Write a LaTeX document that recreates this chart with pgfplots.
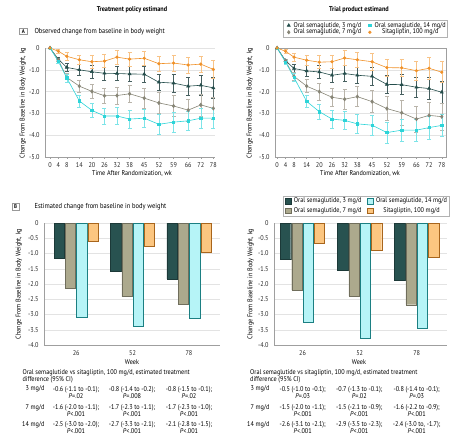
\documentclass[border=0pt]{standalone}
\usepackage{pgfplots}
\pgfplotsset{compat=1.18}
\usepackage{pgfplotstable}
\usepackage{fontspec}
\setmainfont{PT Sans}[FakeStretch=0.9]

\definecolor{cA}{RGB}{36,77,75}
\definecolor{cAe}{RGB}{70,95,95}
\definecolor{cB}{RGB}{135,133,118}
\definecolor{cBe}{RGB}{185,180,170}
\definecolor{cC}{RGB}{45,212,216}
\definecolor{cCe}{RGB}{125,228,232}
\definecolor{cD}{RGB}{240,145,40}
\definecolor{cDe}{RGB}{248,195,135}
\definecolor{bA}{RGB}{40,82,80}
\definecolor{bB}{RGB}{172,169,141}
\definecolor{bC}{RGB}{182,244,247}
\definecolor{bD}{RGB}{252,198,128}

\newcommand{\fs}{\fontsize{6.9}{6.8}\selectfont}

\pgfplotstableread{
wk s3 e3 s7 e7 s14 e14 st est
0 0 0 0 0 0 0 0 0
4 -0.52 0.08 -0.55 0.08 -0.62 0.10 -0.15 0.08
8 -0.89 0.18 -1.35 0.20 -1.37 0.18 -0.38 0.18
14 -1.00 0.25 -1.75 0.28 -2.43 0.28 -0.54 0.22
20 -1.09 0.28 -1.99 0.32 -2.86 0.32 -0.63 0.28
26 -1.16 0.30 -2.19 0.36 -3.12 0.36 -0.60 0.30
32 -1.17 0.32 -2.18 0.38 -3.12 0.38 -0.42 0.33
38 -1.19 0.35 -2.10 0.40 -3.26 0.40 -0.51 0.33
45 -1.20 0.36 -2.30 0.45 -3.22 0.42 -0.47 0.33
52 -1.57 0.37 -2.52 0.47 -3.50 0.45 -0.72 0.35
59 -1.61 0.40 -2.66 0.48 -3.40 0.45 -0.69 0.36
66 -1.75 0.42 -2.85 0.50 -3.34 0.43 -0.78 0.37
72 -1.71 0.45 -2.61 0.50 -3.22 0.45 -0.74 0.38
78 -1.83 0.48 -2.77 0.50 -3.22 0.45 -0.98 0.40
}\tpA

\pgfplotstableread{
wk s3 e3 s7 e7 s14 e14 st est
0 0 0 0 0 0 0 0 0
4 -0.58 0.08 -0.60 0.10 -0.65 0.10 -0.15 0.08
8 -0.94 0.20 -1.30 0.20 -1.35 0.18 -0.42 0.20
14 -1.05 0.26 -1.75 0.30 -2.45 0.26 -0.56 0.24
20 -1.10 0.30 -2.00 0.38 -2.92 0.33 -0.65 0.30
26 -1.25 0.34 -2.26 0.42 -3.26 0.40 -0.63 0.32
32 -1.17 0.36 -2.35 0.44 -3.32 0.42 -0.46 0.35
38 -1.25 0.38 -2.23 0.46 -3.48 0.44 -0.54 0.36
45 -1.30 0.42 -2.46 0.50 -3.54 0.46 -0.63 0.38
52 -1.67 0.42 -2.78 0.55 -3.88 0.48 -0.90 0.40
59 -1.68 0.46 -2.97 0.58 -3.77 0.50 -0.91 0.40
66 -1.80 0.46 -3.26 0.60 -3.77 0.50 -1.04 0.42
72 -1.86 0.50 -3.09 0.60 -3.65 0.52 -0.93 0.50
78 -2.03 0.52 -3.15 0.60 -3.55 0.52 -1.11 0.48
}\tpB

\pgfplotsset{
  common/.style={
    scale only axis,
    ymajorgrids,
    grid style={gray!22, line width=0.4pt},
    axis line style={gray!75, line width=0.5pt},
    tick style={gray!75, line width=0.4pt},
    major tick length=2pt,
    tick align=outside,
    xtick pos=bottom, ytick pos=left,
    ytick style={draw=none},
    tick label style={font=\fs, text=black!85},
  },
  topax/.style={common,
    height=109pt, ymin=-5, ymax=0,
    ytick={0,-1,-2,-3,-4,-5},
    yticklabels={0,-1.0,-2.0,-3.0,-4.0,-5.0},
    xtick={0,4,8,14,20,26,32,38,45,52,59,66,72,78},
    xticklabels={0,4,8,14,20,26,32,38,45,52,59,66,72,78},
    every axis plot/.append style={
      legend image code/.code={\path (-0.06cm,0cm) (0.2cm,0cm); \draw[##1] plot coordinates {(0.07cm,0cm)};}},
  },
  botax/.style={common,
    height=122pt, ymin=-4, ymax=0,
    ytick={0,-0.5,-1,-1.5,-2,-2.5,-3,-3.5,-4},
    yticklabels={0,-0.5,-1.0,-1.5,-2.0,-2.5,-3.0,-3.5,-4.0},
    xtick={0,1,2}, xticklabels={26,52,78},
    xtick style={draw=none},
    axis lines*=left,
    ybar=1pt, bar width=10.3pt,
    every axis plot/.append style={
      legend image code/.code={\path (-1pt,0pt) (7.5pt,0pt); \draw[##1] (0pt,-2.9pt) rectangle (6pt,2.9pt);}},
  },
  ln/.style 2 args={color=#1, line width=0.6pt,
    mark options={solid, fill=#1, draw=#1},
    error bars/y dir=both, error bars/y explicit,
    error bars/error bar style={color=#2, line width=0.5pt},
    error bars/error mark options={rotate=90, mark size=2pt, color=#2, line width=0.5pt}},
}

\begin{document}
\begin{tikzpicture}[font=\fs]
\path[use as bounding box] (0pt,0pt) rectangle (467pt,-441pt);

% ---------- Titles ----------
\node[font=\bfseries\fs] at (132pt,-10pt) {Treatment policy estimand};
\node[font=\bfseries\fs] at (359pt,-10pt) {Trial product estimand};

\node[draw=gray!80, font=\bfseries\fontsize{5.5}{5.5}\selectfont, inner sep=0pt, minimum width=8pt, minimum height=6.5pt] at (23.3pt,-31.3pt) {A};
\node[anchor=west, font=\fontsize{7.2}{7.5}\selectfont] at (31pt,-31.3pt) {Observed change from baseline in body weight};

% ---------- Top left ----------
\begin{axis}[topax, at={(45pt,-157pt)}, anchor=south west, width=170pt,
  xmin=-2.4, xmax=78.8, axis lines*=left]
\addplot[ln={cA}{cAe}, mark=triangle*, mark size=1.7pt] table[x=wk, y=s3, y error=e3] {\tpA};
\addplot[ln={cB}{cBe}, mark=diamond*, mark size=1.7pt] table[x=wk, y=s7, y error=e7] {\tpA};
\addplot[ln={cC}{cCe}, mark=square*, mark size=1.2pt] table[x=wk, y=s14, y error=e14] {\tpA};
\addplot[ln={cD}{cDe}, mark=*, mark size=1.3pt] table[x=wk, y=st, y error=est] {\tpA};
\end{axis}
\node[rotate=90] at (23pt,-103pt) {Change From Baseline in Body Weight, kg};
\node at (132pt,-173.3pt) {Time After Randomization, wk};

% ---------- Top right ----------
\begin{axis}[topax, at={(275pt,-157pt)}, anchor=south west, width=171pt,
  xmin=-1, xmax=80,
  legend columns=2, transpose legend,
  legend style={at={(0.53,1.095)}, anchor=south, draw=gray!60, font=\fs,
    inner sep=1.2pt, row sep=-1.2pt,
    nodes={inner sep=0.8pt},
    /tikz/every even column/.append style={column sep=4pt}}]
\addplot[ln={cA}{cAe}, mark=triangle*, mark size=1.7pt] table[x=wk, y=s3, y error=e3] {\tpB};
\addlegendentry{Oral semaglutide, 3 mg/d}
\addplot[ln={cB}{cBe}, mark=diamond*, mark size=1.7pt] table[x=wk, y=s7, y error=e7] {\tpB};
\addlegendentry{Oral semaglutide, 7 mg/d}
\addplot[ln={cC}{cCe}, mark=square*, mark size=1.2pt] table[x=wk, y=s14, y error=e14] {\tpB};
\addlegendentry{Oral semaglutide, 14 mg/d}
\addplot[ln={cD}{cDe}, mark=*, mark size=1.3pt] table[x=wk, y=st, y error=est] {\tpB};
\addlegendentry{Sitagliptin, 100 mg/d}
\end{axis}
\node[rotate=90] at (250pt,-103pt) {Change From Baseline in Body Weight, kg};
\node at (360pt,-173.3pt) {Time After Randomization, wk};

% ---------- B label ----------
\node[draw=gray!80, font=\bfseries\fontsize{5.5}{5.5}\selectfont, inner sep=0pt, minimum width=7pt, minimum height=6.5pt] at (15.5pt,-206.7pt) {B};
\node[anchor=west, font=\fontsize{7.2}{7.5}\selectfont] at (31pt,-206.7pt) {Estimated change from baseline in body weight};

% ---------- Bottom left ----------
\begin{axis}[botax, at={(44pt,-345pt)}, anchor=south west, width=176pt,
  xmin=-0.57, xmax=2.55]
\addplot[fill=bA, draw=bA!70!black, line width=0.4pt] coordinates {(0,-1.17) (1,-1.58) (2,-1.83)};
\addplot[fill=bB, draw=bB!65!black, line width=0.4pt] coordinates {(0,-2.15) (1,-2.41) (2,-2.67)};
\addplot[fill=bC, draw=cC!60!black, line width=0.4pt] coordinates {(0,-3.10) (1,-3.40) (2,-3.13)};
\addplot[fill=bD, draw=cD!70!black, line width=0.4pt] coordinates {(0,-0.59) (1,-0.75) (2,-0.97)};
\end{axis}
\node[rotate=90] at (19pt,-284pt) {Change From Baseline in Body Weight, kg};
\node at (132pt,-361.7pt) {Week};

% ---------- Bottom right ----------
\begin{axis}[botax, at={(274pt,-345pt)}, anchor=south west, width=173pt,
  xmin=-0.5, xmax=2.53,
  legend columns=2, transpose legend,
  legend style={at={(0.532,1.057)}, anchor=south, draw=gray!60, font=\fs,
    inner sep=1.2pt, row sep=1.5pt,
    nodes={inner sep=0.8pt},
    /tikz/every even column/.append style={column sep=4pt}}]
\addplot[fill=bA, draw=bA!70!black, line width=0.4pt] coordinates {(0,-1.20) (1,-1.54) (2,-1.87)};
\addlegendentry{Oral semaglutide, 3 mg/d}
\addplot[fill=bB, draw=bB!65!black, line width=0.4pt] coordinates {(0,-2.20) (1,-2.39) (2,-2.68)};
\addlegendentry{Oral semaglutide, 7 mg/d}
\addplot[fill=bC, draw=cC!60!black, line width=0.4pt] coordinates {(0,-3.26) (1,-3.78) (2,-3.46)};
\addlegendentry{Oral semaglutide, 14 mg/d}
\addplot[fill=bD, draw=cD!70!black, line width=0.4pt] coordinates {(0,-0.65) (1,-0.88) (2,-1.12)};
\addlegendentry{Sitagliptin, 100 mg/d}
\end{axis}
\node[rotate=90] at (250.7pt,-284pt) {Change From Baseline in Body Weight, kg};
\node at (359pt,-361.7pt) {Week};

% ---------- Bottom text, left ----------
\node[anchor=west] at (19pt,-372.7pt) {Oral semaglutide vs sitagliptin, 100 mg/d, estimated treatment};
\node[anchor=west] at (19pt,-379.8pt) {difference (95\% CI)};
\node[anchor=east] at (48pt,-389pt) {3 mg/d};
\node[anchor=east] at (48pt,-407.3pt) {7 mg/d};
\node[anchor=east] at (48pt,-424.3pt) {14 mg/d};
\node[align=center] at (76pt,-392.3pt) {-0.6 (-1.1 to -0.1);\\\textit{P}=.02};
\node[align=center] at (132pt,-392.3pt) {-0.8 (-1.4 to -0.2);\\\textit{P}=.008};
\node[align=center] at (189pt,-392.3pt) {-0.8 (-1.5 to -0.1);\\\textit{P}=.02};
\node[align=center] at (76pt,-410.5pt) {-1.6 (-2.0 to -1.1);\\\textit{P}<.001};
\node[align=center] at (132pt,-410.5pt) {-1.7 (-2.3 to -1.1);\\\textit{P}<.001};
\node[align=center] at (189pt,-410.5pt) {-1.7 (-2.3 to -1.0);\\\textit{P}<.001};
\node[align=center] at (76pt,-427.7pt) {-2.5 (-3.0 to -2.0);\\\textit{P}<.001};
\node[align=center] at (132pt,-427.7pt) {-2.7 (-3.3 to -2.1);\\\textit{P}<.001};
\node[align=center] at (189pt,-427.7pt) {-2.1 (-2.8 to -1.5);\\\textit{P}<.001};

% ---------- Bottom text, right ----------
\node[anchor=west] at (246.7pt,-372.7pt) {Oral semaglutide vs sitagliptin, 100 mg/d, estimated treatment};
\node[anchor=west] at (246.7pt,-379.8pt) {difference (95\% CI)};
\node[anchor=east] at (273pt,-389pt) {3 mg/d};
\node[anchor=east] at (273pt,-407.3pt) {7 mg/d};
\node[anchor=east] at (273pt,-424.3pt) {14 mg/d};
\node[align=center] at (302.7pt,-392.3pt) {-0.5 (-1.0 to -0.1);\\\textit{P}=.03};
\node[align=center] at (359.3pt,-392.3pt) {-0.7 (-1.3 to -0.1);\\\textit{P}=.02};
\node[align=center] at (416.7pt,-392.3pt) {-0.8 (-1.4 to -0.1);\\\textit{P}=.03};
\node[align=center] at (302.7pt,-410.5pt) {-1.5 (-2.0 to -1.1);\\\textit{P}<.001};
\node[align=center] at (359.3pt,-410.5pt) {-1.5 (-2.1 to -0.9);\\\textit{P}<.001};
\node[align=center] at (416.7pt,-410.5pt) {-1.6 (-2.2 to -0.9);\\\textit{P}<.001};
\node[align=center] at (302.7pt,-427.7pt) {-2.6 (-3.1 to -2.1);\\\textit{P}<.001};
\node[align=center] at (359.3pt,-427.7pt) {-2.9 (-3.5 to -2.3);\\\textit{P}<.001};
\node[align=center] at (416.7pt,-427.7pt) {-2.4 (-3.0 to, -1.7);\\\textit{P}<.001};
\end{tikzpicture}
\end{document}
